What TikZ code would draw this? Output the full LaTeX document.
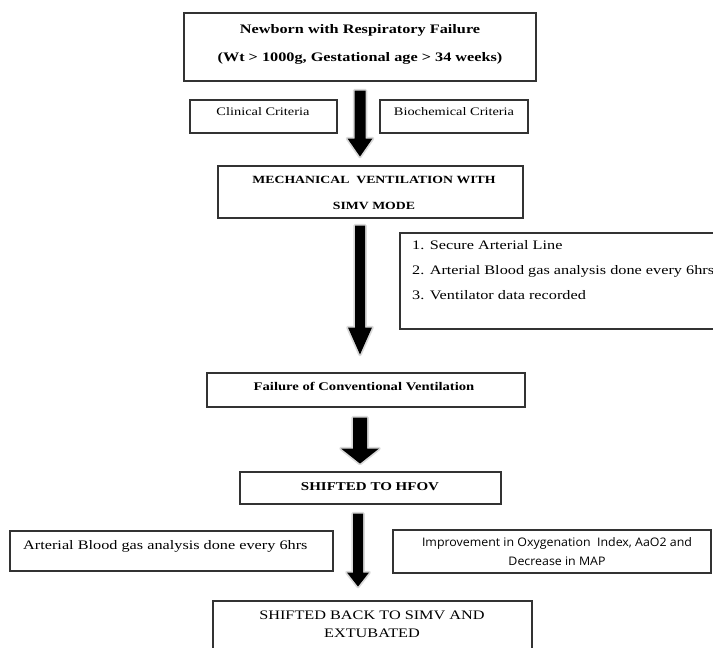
\documentclass[tikz,border=0pt]{standalone}
\usepackage{fontspec}
\setmainfont{Liberation Serif}[FakeStretch=1.25]
\newfontfamily\sansf{Open Sans}[FakeStretch=1.05]
\usetikzlibrary{calc}
\tikzset{
  box/.style={draw=black!80, line width=1.1pt, rectangle, inner sep=0pt, fill=white},
  txt/.style={inner sep=0pt, text=black},
  arrowshape/.style={fill=black, preaction={draw=gray!30, line width=3.5pt, line join=round}},
}
\newcommand\flowarrow[5]{% #1 start, #2 shaft length, #3 shaft half width, #4 head half width, #5 head length
  \path[arrowshape] (#1) ++({-#3},0) -- ++(0,#2) -- ++({#3-#4},0) -- ++(#4,#5) -- ++(#4,{-#5}) -- ++({#3-#4},0) -- ++(0,{-#2}) -- cycle;}
\begin{document}
\begin{tikzpicture}[x=1pt,y=-1pt]
\useasboundingbox (0,0) rectangle (713,648);
\fill[white] (0,0) rectangle (713,648);
% boxes
\node[box, minimum width=352pt, minimum height=68pt] (top) at (360,47) {};
\node[box, minimum width=147pt, minimum height=33pt] (clin) at (263.5,116.5) {};
\node[box, minimum width=148pt, minimum height=33pt] (bio) at (454,116.5) {};
\node[box, minimum width=305pt, minimum height=52pt] (mech) at (370.5,192) {};
\node[box, minimum width=318pt, minimum height=96pt] (list) at (559,281) {};
\node[box, minimum width=318pt, minimum height=34pt] (fail) at (366,390) {};
\node[box, minimum width=261pt, minimum height=32pt] (hfov) at (370.5,488) {};
\node[box, minimum width=323pt, minimum height=40pt] (left) at (171.5,551) {};
\node[box, minimum width=318pt, minimum height=43pt] (right) at (552,551.5) {};
\node[box, minimum width=319pt, minimum height=60pt] (final) at (372.5,631) {};
% texts
\node[txt, align=center, font=\bfseries\fontsize{13}{28}\selectfont] (toptext) at (360,44)
  {Newborn with Respiratory Failure\\(Wt > 1000g, Gestational age > 34 weeks)};
\node[txt, font=\fontsize{11.5}{13}\selectfont] (clintext) at (263,112) {Clinical Criteria};
\node[txt, font=\fontsize{11.5}{13}\selectfont] (biotext) at (454,112) {Biochemical Criteria};
\node[txt, align=center, font=\bfseries\fontsize{11}{26}\selectfont] (mechtext) at (374,193)
  {MECHANICAL\ \ VENTILATION WITH\\SIMV MODE};
\node[txt, anchor=west, align=left, font=\fontsize{13}{25}\selectfont] (listtext) at (412,270)
  {1. Secure Arterial Line\\2. Arterial Blood gas analysis done every 6hrs\\3. Ventilator data recorded};
\node[txt, font=\bfseries\fontsize{11.7}{13}\selectfont] (failtext) at (364,386) {Failure of Conventional Ventilation};
\node[txt, font=\bfseries\fontsize{12}{14}\selectfont] (hfovtext) at (370,487) {SHIFTED TO HFOV};
\node[txt, anchor=west, font=\fontsize{13}{15}\selectfont] (lefttext) at (23,546) {Arterial Blood gas analysis done every 6hrs};
\node[txt, align=center, font=\sansf\fontsize{11.8}{19}\selectfont] (righttext) at (557,552)
  {Improvement in Oxygenation\ \ Index, AaO2 and\\Decrease in MAP};
\node[txt, align=center, font=\fontsize{13}{18}\selectfont] (finaltext) at (372,624)
  {SHIFTED BACK TO SIMV AND\\EXTUBATED};
% arrows (connectors)
\coordinate (a1) at ($(top.south)+(0,9)$);
\coordinate (a2) at ($(mech.south -| top.south)+(0,7)$);
\coordinate (a3) at ($(fail.south -| top.south)+(0,10)$);
\coordinate (a4) at ($(hfov.south -| top.south)+(-2,9)$);
\flowarrow{a1}{48}{5.5}{12.5}{18}
\flowarrow{a2}{102}{5}{12}{27}
\flowarrow{a3}{31}{7}{19}{15}
\flowarrow{a4}{59}{5}{11}{14}
\end{tikzpicture}
\end{document}
